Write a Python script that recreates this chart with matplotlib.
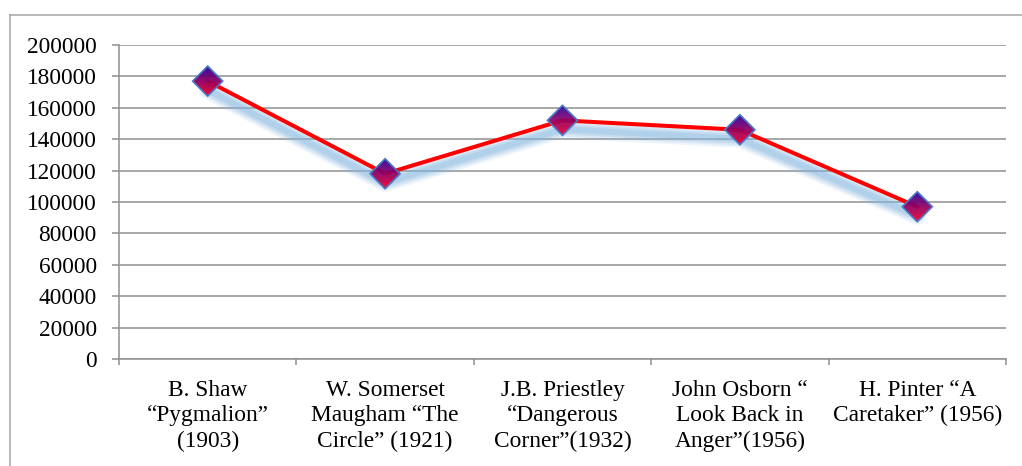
import numpy as np
import matplotlib
matplotlib.use("Agg")
import matplotlib.pyplot as plt
import matplotlib.transforms as mtransforms
from matplotlib.patches import Polygon
from matplotlib.lines import Line2D

plays = [
    "B. Shaw\n\u201cPygmalion\u201d\n(1903)",
    "W. Somerset\nMaugham \u201cThe\nCircle\u201d (1921)",
    "J.B. Priestley\n\u201cDangerous\nCorner\u201d(1932)",
    "John Osborn \u201c\nLook Back in\nAnger\u201d(1956)",
    "H. Pinter \u201cA\nCaretaker\u201d (1956)",
]
values = [177000, 118000, 152000, 146000, 97000]
y_ticks = list(range(0, 200001, 20000))

plt.rcParams["font.family"] = ["Liberation Serif", "DejaVu Serif"]

W, H = 1022, 466
fig = plt.figure(figsize=(W / 100, H / 100), dpi=100)
ax = fig.add_axes([119 / W, 1 - 359 / H, (1006 - 119) / W, (359 - 45) / H])

x = np.arange(len(values))
ax.set_xlim(-0.5, len(values) - 0.5)
ax.set_ylim(0, 200000)

# grid and axes in Excel-like grey
grid_c = "#8f8f8f"
ax.set_yticks(y_ticks)
ax.set_yticklabels([str(v) for v in y_ticks])
ax.yaxis.grid(True, color=grid_c, lw=1.1)
ax.set_axisbelow(True)
for s in ["top", "right"]:
    ax.spines[s].set_visible(False)
for s in ["left", "bottom"]:
    ax.spines[s].set_color(grid_c)
    ax.spines[s].set_linewidth(1.1)

ax.set_xticks(np.arange(-0.5, len(values)), labels=[""] * (len(values) + 1))
ax.set_xticks(x, labels=plays, minor=True)
ax.tick_params(axis="x", which="major", length=4, color=grid_c, width=1.1)
ax.tick_params(axis="x", which="minor", length=0, pad=15, labelsize=16.8)
ax.tick_params(axis="y", length=5, color=grid_c, width=1.1, pad=11, labelsize=16.8)
for lab in ax.get_xticklabels(minor=True):
    lab.set_linespacing(1.28)

# soft blue shadow under the line
shadow_tr = ax.transData + mtransforms.Affine2D().translate(0, -9)
for lw, a in [(18, 0.14), (14, 0.18), (10, 0.24), (6, 0.3)]:
    ax.add_line(Line2D(x, values, color="#86b6e0", lw=lw * 0.72, alpha=a,
                       solid_capstyle="round", solid_joinstyle="round",
                       transform=shadow_tr, zorder=2))

ax.plot(x, values, color="#ff0000", lw=2.9, zorder=3, solid_joinstyle="round")

# diamond markers with vertical gradient fill (pixel units around each point)
h = 15
top_c = np.array([0.16, 0.02, 0.62])
bot_c = np.array([1.0, 0.0, 0.16])
edges = np.linspace(-h, h, 31)
for xi, yi in zip(x, values):
    tr = mtransforms.ScaledTranslation(xi, yi, ax.transData)
    for y0, y1 in zip(edges[:-1], edges[1:]):
        ym = (y0 + y1) / 2
        t = (ym + h) / (2 * h)
        col = bot_c * (1 - t) + top_c * t
        pts = [(-(h - abs(y0)), y0), ((h - abs(y0)), y0)]
        pts += [((h - abs(y1)), y1), (-(h - abs(y1)), y1)]
        ax.add_patch(Polygon(pts, closed=True, facecolor=col, edgecolor=col,
                             lw=0.3, transform=tr, zorder=4, clip_on=False))
    ax.add_patch(Polygon([(0, h), (h, 0), (0, -h), (-h, 0)], closed=True,
                         facecolor="none", edgecolor="#4a78c8", lw=1.2,
                         transform=tr, zorder=5, clip_on=False))

# outer chart frame
fig.add_artist(Line2D([10 / W, 10 / W], [0, 1 - 15 / H], color="#a6a6a6", lw=1.1,
                      transform=fig.transFigure))
fig.add_artist(Line2D([10 / W, 1], [1 - 15 / H, 1 - 15 / H], color="#a6a6a6", lw=1.1,
                      transform=fig.transFigure))

fig.savefig("out.png", dpi=100, facecolor="white")
